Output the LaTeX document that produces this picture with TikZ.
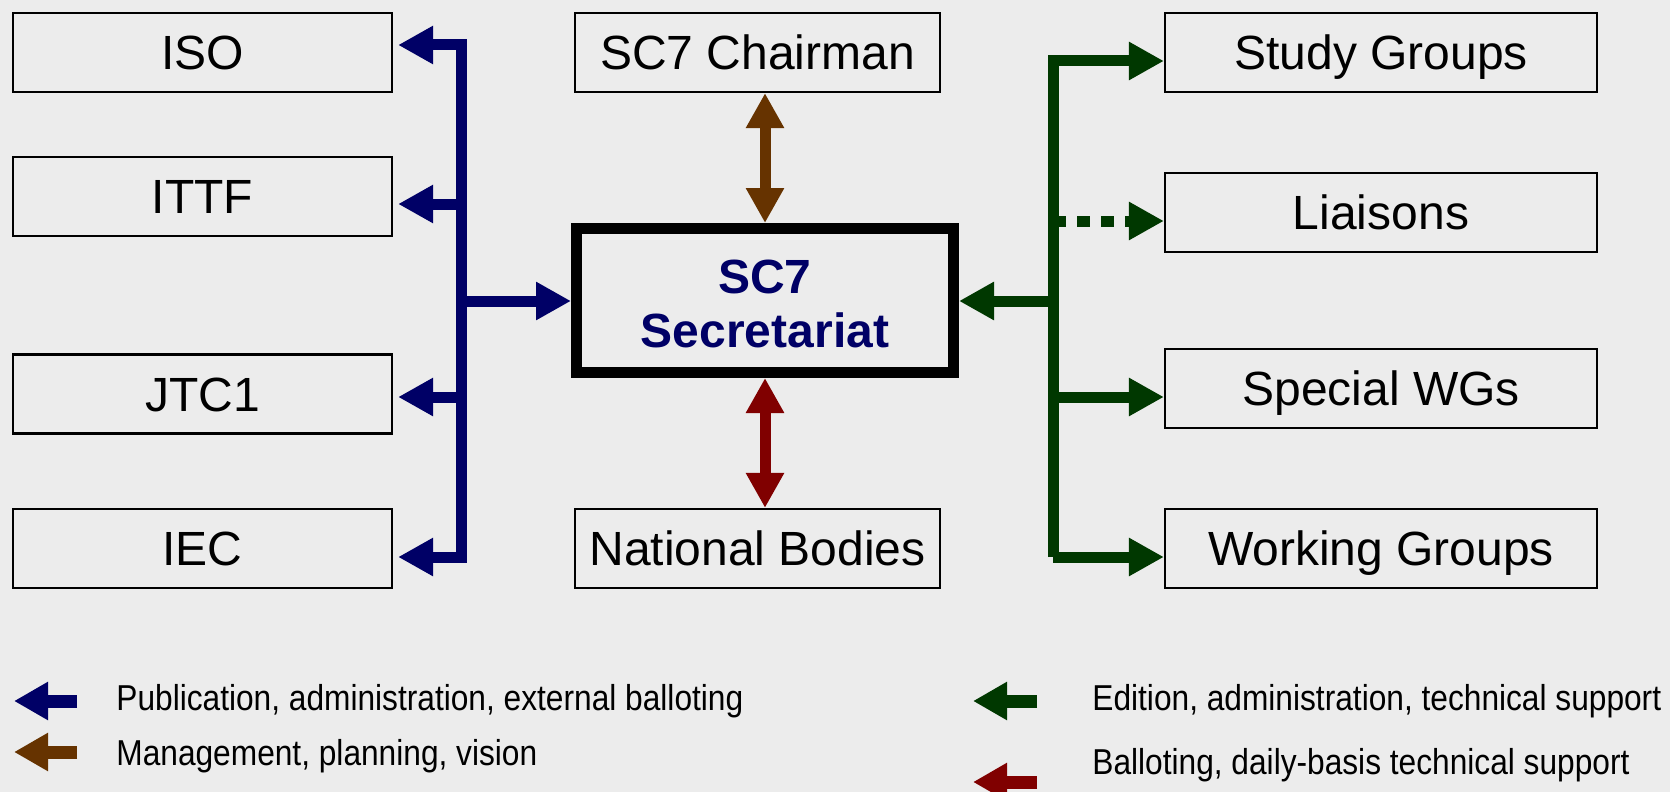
\documentclass[tikz,border=0pt]{standalone}
\usepackage{fontspec}
\setmainfont{Liberation Sans}
\usetikzlibrary{arrows.meta,calc}
\definecolor{bgc}{RGB}{236,236,236}
\definecolor{navyc}{RGB}{0,0,102}
\definecolor{brownc}{RGB}{102,51,0}
\definecolor{greenc}{RGB}{0,56,0}
\definecolor{redc}{RGB}{128,0,0}
\tikzset{
  box/.style={draw=black, line width=1.1pt, minimum height=39.5pt, inner sep=0pt,
    font=\fontsize{24}{28}\selectfont, text height=17.2pt, text depth=0pt},
  lbox/.style={box, minimum width=189.5pt},
  cbox/.style={box, minimum width=182.5pt},
  rbox/.style={box, minimum width=216pt},
  secbox/.style={draw=black, line width=5.5pt, minimum width=188.5pt, minimum height=72pt,
    inner sep=0pt, text=navyc, font=\bfseries\fontsize{24}{27}\selectfont},
  conn/.style={line width=5.5pt, line join=miter, -{Triangle[length=17.5pt,width=18pt]}},
  twoway/.style={conn, {Triangle[length=17.5pt,width=18pt]}-{Triangle[length=17.5pt,width=18pt]}},
  legarrow/.style={line width=6.5pt, -{Triangle[length=17pt,width=18pt]}},
  legtext/.style={anchor=base west, inner sep=0pt, font=\fontsize{18}{20}\selectfont},
}
\begin{document}
\begin{tikzpicture}[x=0.5pt,y=-0.5pt]
\fill[bgc] (0,0) rectangle (1670,792);
\useasboundingbox (0,0) rectangle (1670,792);

% left column
\node[lbox] (iso)  at (202.5,52.5)  {ISO};
\node[lbox] (ittf) at (202.5,196.5) {ITTF};
\node[lbox] (jtc)  at (202.5,394)   {JTC1};
\node[lbox] (iec)  at (202.5,548.5) {IEC};
% centre column
\node[cbox] (chair) at (757.5,52.5)  {SC7 Chairman};
\node[secbox] (sec) at (765,300.5)   {\raisebox{-4.5pt}[\height][\depth]{\begin{tabular}{@{}c@{}}SC7\\Secretariat\end{tabular}}};
\node[cbox] (nb)    at (757.5,548.5) {National Bodies};
% right column
\node[rbox] (sg)  at (1381,52.5)  {Study Groups};
\node[rbox] (lia) at (1381,212.5) {Liaisons};
\node[rbox] (swg) at (1381,388.5) {Special WGs};
\node[rbox] (wg)  at (1381,548.5) {Working Groups};

% blue bus
\coordinate (bT) at (461.5,45);
\coordinate (bI) at (461.5,204);
\coordinate (bS) at (461.5,301);
\coordinate (bJ) at (461.5,397);
\coordinate (bB) at (461.5,557);
\draw[navyc,twoway] ($(iso.east |- bT)+(5,0)$) -- (bT) -- (bB) -- ($(iec.east |- bB)+(5,0)$);
\draw[navyc,conn] (bI) -- ($(ittf.east |- bI)+(5,0)$);
\draw[navyc,conn] (bJ) -- ($(jtc.east |- bJ)+(5,0)$);
\draw[navyc,conn] (bS) -- (sec.west |- bS);

% green bus
\coordinate (gT) at (1053,61);
\coordinate (gL) at (1053,221);
\coordinate (gS) at (1053,301);
\coordinate (gW) at (1053,397);
\coordinate (gB) at (1053,557);
\draw[greenc,conn] (gB) -- (gT) -- (sg.west |- gT);
\draw[greenc,conn] (gB) -- (wg.west |- gB);
\draw[greenc,conn,dash pattern=on 6.5pt off 5.5pt] (gL) -- (lia.west |- gL);
\draw[greenc,conn] (gW) -- (swg.west |- gW);
\draw[greenc,conn] (gS) -- (sec.east |- gS);

% chairman and national bodies
\draw[brownc,twoway] (sec.north |- chair.south) -- (sec.north);
\draw[redc,twoway] (sec.south) -- (sec.south |- nb.north);

% legend
\coordinate (la1) at (77,701);   \coordinate (lb1) at (14,701);
\coordinate (la2) at (77,752);   \coordinate (lb2) at (14,752);
\coordinate (la3) at (1037,701); \coordinate (lb3) at (973,701);
\coordinate (la4) at (1037,782); \coordinate (lb4) at (973,782);
\draw[navyc,legarrow]  (la1) -- (lb1);
\draw[brownc,legarrow] (la2) -- (lb2);
\draw[greenc,legarrow] (la3) -- (lb3);
\draw[redc,legarrow]   (la4) -- (lb4);
\node[legtext] (t1) at (116,710)  {\scalebox{0.88}[1]{Publication, administration, external balloting}};
\node[legtext] (t2) at (116,765)  {\scalebox{0.88}[1]{Management, planning, vision}};
\node[legtext] (t3) at (1092,710) {\scalebox{0.88}[1]{Edition, administration, technical support}};
\node[legtext] (t4) at (1092,774) {\scalebox{0.88}[1]{Balloting, daily-basis technical support}};
\end{tikzpicture}
\end{document}
